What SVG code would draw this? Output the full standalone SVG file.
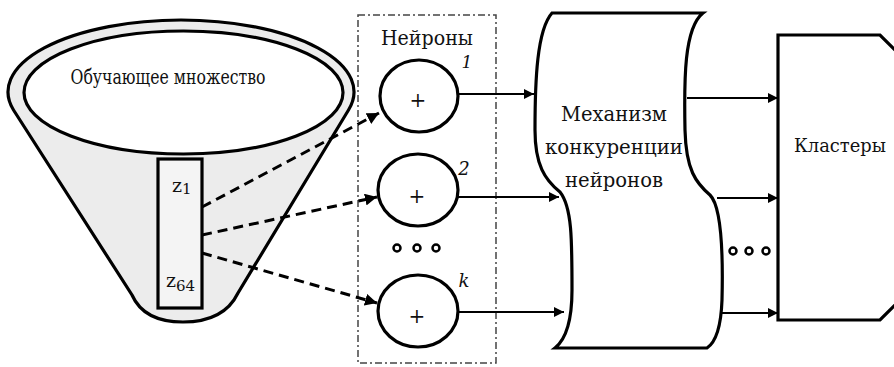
<svg xmlns="http://www.w3.org/2000/svg" width="894" height="367" viewBox="0 0 894 367">
<defs>
<style>
.shape{stroke:#000;stroke-width:3.2;fill:#fff}
.t{fill:#111}
.conn{stroke:#000;stroke-width:2;fill:none}
.dash{stroke:#000;stroke-width:3;fill:none;stroke-dasharray:10 6}
.dot{stroke:#000;stroke-width:2.5;fill:#fff}
</style>
<marker id="arr" viewBox="0 0 10 10" refX="10" refY="5" markerWidth="5" markerHeight="5" markerUnits="strokeWidth" orient="auto">
<path d="M0,0 L10,5 L0,10 Z" fill="#000"/>
</marker>
<marker id="arr2" viewBox="0 0 10 10" refX="10" refY="5" markerWidth="4" markerHeight="4" markerUnits="strokeWidth" orient="auto">
<path d="M0,0 L10,5 L0,10 Z" fill="#000"/>
</marker>
</defs>
<rect width="894" height="367" fill="#fff"/>

<g font-family="DejaVu Serif, Liberation Serif, serif">
<g id="funnel">
<path class="shape" style="fill:#ececec" d="M13.5,110 A173,72 0 1 1 348.5,110 L238,293 Q224,322 183,322 Q144,322 132,295 Z"/>
<ellipse class="shape" cx="183.5" cy="92.5" rx="159.5" ry="61.5"/>
<text class="t" x="168" y="84" font-size="21" text-anchor="middle" textLength="195" lengthAdjust="spacingAndGlyphs">Обучающее множество</text>
<rect class="shape" style="fill:#f4f4f4" x="158" y="159" width="44" height="149"/>
<text class="t" x="172" y="192" font-size="19">z<tspan font-size="15" dy="2">1</tspan></text>
<text class="t" x="166" y="287" font-size="19">z<tspan font-size="15" dy="4">64</tspan></text>
</g>

<g id="neurons">
<rect x="358" y="15" width="138" height="348" fill="none" stroke="#444" stroke-width="1.5" stroke-dasharray="7 3 2 3"/>
<text class="t" x="427" y="45" font-size="20" text-anchor="middle" textLength="92" lengthAdjust="spacingAndGlyphs">Нейроны</text>
</g>
<g id="neuron1">
<ellipse class="shape" cx="419" cy="96" rx="39" ry="36"/>
<text class="t" x="418" y="107" font-size="20" text-anchor="middle">+</text>
<text class="t" x="467" y="68" font-size="17" font-style="italic" text-anchor="middle">1</text>
</g>
<g id="neuron2">
<ellipse class="shape" cx="418" cy="190" rx="40" ry="36"/>
<text class="t" x="417" y="203" font-size="20" text-anchor="middle">+</text>
<text class="t" x="464" y="175" font-size="18" font-style="italic" text-anchor="middle">2</text>
</g>
<g id="neuronk">
<ellipse class="shape" cx="418" cy="311" rx="40" ry="36"/>
<text class="t" x="417" y="323" font-size="20" text-anchor="middle">+</text>
<text class="t" x="464" y="287" font-size="18" font-style="italic" text-anchor="middle">k</text>
</g>
<g id="neuron-dots">
<circle class="dot" cx="397" cy="248" r="3.5"/>
<circle class="dot" cx="417" cy="248" r="3.5"/>
<circle class="dot" cx="436" cy="248" r="3.5"/>
</g>

<g id="mechanism">
<path class="shape" d="M552,13 L703,13 C684,28 684,80 685,130 C686,170 696,183 710,195 C722,207 723,260 722,300 C721,328 716,342 707,348 L555,348 C565,340 572,322 572,290 C572,240 572,207 560,192 C545,180 535,165 535,130 C535,80 537,30 552,13 Z"/>
<text class="t" x="614" y="121" font-size="20" text-anchor="middle" textLength="106" lengthAdjust="spacingAndGlyphs">Механизм</text>
<text class="t" x="614" y="154" font-size="20" text-anchor="middle" textLength="138" lengthAdjust="spacingAndGlyphs">конкуренции</text>
<text class="t" x="614" y="187" font-size="20" text-anchor="middle" textLength="98" lengthAdjust="spacingAndGlyphs">нейронов</text>
</g>
<g id="mech-dots">
<circle class="dot" cx="733" cy="251" r="3.5"/>
<circle class="dot" cx="749" cy="251" r="3.5"/>
<circle class="dot" cx="766" cy="251" r="3.5"/>
</g>

<g id="clusters">
<path class="shape" d="M778,35 L880,35 L900,55 L900,300 L880,320 L778,320 Z"/>
<text class="t" x="794" y="152" font-size="19" textLength="92" lengthAdjust="spacingAndGlyphs">Кластеры</text>
</g>
</g>

<g id="connectors">
<path class="dash" d="M202,207 L379,113" marker-end="url(#arr2)"/>
<path class="dash" d="M202,235 L377,197" marker-end="url(#arr2)"/>
<path class="dash" d="M202,253 L377,303" marker-end="url(#arr2)"/>
<path class="conn" d="M458,94 L534,94" marker-end="url(#arr)"/>
<path class="conn" d="M458,197 L559,197" marker-end="url(#arr)"/>
<path class="conn" d="M457,312 L564,312" marker-end="url(#arr)"/>
<path class="conn" d="M687,98 L778,98" marker-end="url(#arr)"/>
<path class="conn" d="M717,198 L778,198" marker-end="url(#arr)"/>
<path class="conn" d="M722,313 L778,313" marker-end="url(#arr)"/>
</g>
</svg>
